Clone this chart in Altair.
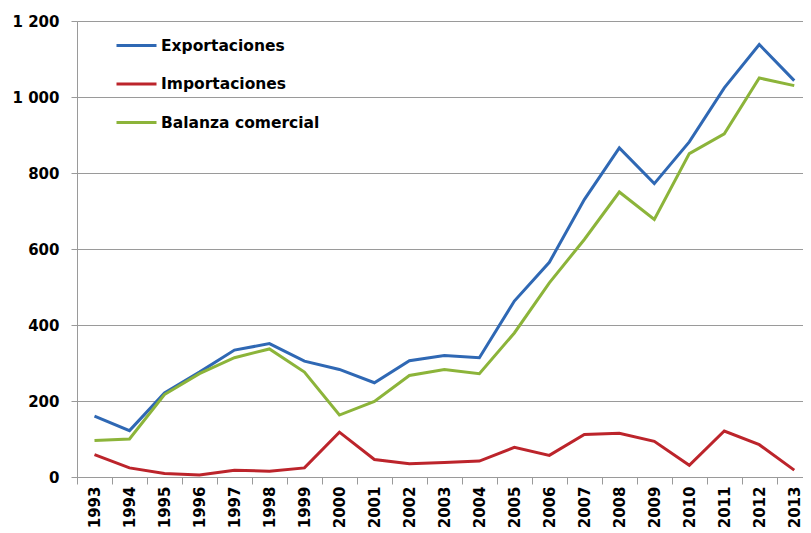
import altair as alt
import pandas as pd

years = list(range(1993, 2014))
exportaciones = [160, 122, 221, 276, 334, 351, 305, 283, 248, 306, 320, 314,
                 463, 565, 730, 866, 772, 882, 1024, 1138, 1043]
importaciones = [59, 24, 9, 5, 18, 15, 24, 118, 46, 35, 38, 42,
                 78, 57, 112, 115, 94, 31, 121, 85, 18]
balanza = [96, 100, 217, 272, 314, 337, 276, 163, 199, 267, 283, 272,
           379, 511, 625, 750, 678, 851, 903, 1050, 1030]

series_names = ["Exportaciones", "Importaciones", "Balanza comercial"]
series_colors = ["#2f68b4", "#bc242b", "#8cb43a"]

rows = []
for name, vals in zip(series_names, [exportaciones, importaciones, balanza]):
    for y, v in zip(years, vals):
        rows.append({"Año": y, "Valor": v, "Serie": name})
df = pd.DataFrame(rows)

font = "DejaVu Sans"
tick_vals = [y - 0.5 for y in years]

chart = alt.Chart(df).mark_line(strokeWidth=3, clip=False).encode(
    x=alt.X("Año:Q",
            scale=alt.Scale(domain=[1992.5, 2013.25], nice=False, zero=False),
            axis=alt.Axis(values=tick_vals, labelExpr="format(datum.value + 0.5, 'd')",
                          labelOffset=17.5, labelAngle=270, labelAlign="right",
                          labelBaseline="middle", labelPadding=2, tickSize=7,
                          tickColor="#9a9a9a", domainColor="#9a9a9a", grid=False,
                          title=None, labelFont=font, labelFontWeight="bold",
                          labelFontSize=15, labelColor="#000000", labelFlush=False,
                          labelOverlap=False)),
    y=alt.Y("Valor:Q",
            scale=alt.Scale(domain=[0, 1200], nice=False),
            axis=alt.Axis(values=[0, 200, 400, 600, 800, 1000, 1200],
                          labelExpr="replace(format(datum.value, ','), ',', ' ')",
                          grid=True, gridColor="#9a9a9a", gridWidth=1.2,
                          tickSize=6, tickColor="#9a9a9a", domainColor="#9a9a9a",
                          labelPadding=12, title=None, labelFont=font,
                          labelFontWeight="bold", labelFontSize=15,
                          labelColor="#000000")),
    color=alt.Color("Serie:N",
                    scale=alt.Scale(domain=series_names, range=series_colors),
                    sort=series_names,
                    legend=alt.Legend(orient="none", legendX=38, legendY=3,
                                      title=None, symbolType="stroke",
                                      symbolSize=1600, symbolStrokeWidth=3,
                                      labelFont=font, labelFontWeight="bold",
                                      labelFontSize=15.5, labelColor="#000000",
                                      labelOffset=3, rowPadding=8.5, padding=0)),
).properties(
    width=726, height=456,
    autosize=alt.AutoSizeParams(type="none"),
    padding={"left": 69, "top": 13, "right": 0, "bottom": 54},
).configure_view(stroke=None).configure(background="#ffffff")

chart.save("out.html", embed_options={"renderer": "svg", "actions": False})
